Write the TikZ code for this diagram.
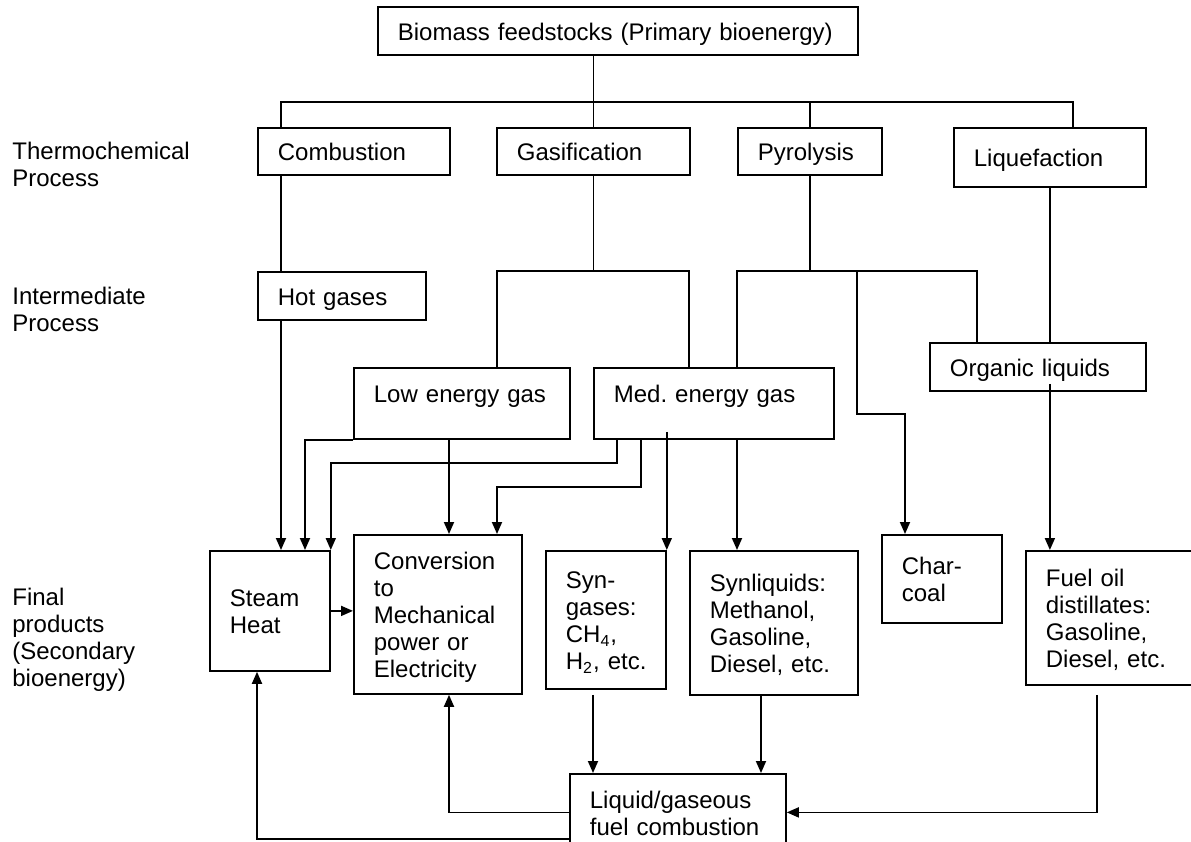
\documentclass[tikz,border=0pt]{standalone}
\usepackage{fontspec}
\setmainfont{Liberation Sans}
\usetikzlibrary{arrows.meta, calc}
\tikzset{
    box/.style={draw, line width=0.9pt, anchor=north west, align=left, inner xsep=10pt, inner ysep=0pt,
        font=\fontsize{12}{13.5}\selectfont, execute at begin node=\rule{0pt}{13.5pt}, execute at end node=\strut},
    highbox/.style={box, execute at begin node=\strut},
    lbl/.style={anchor=west, align=left, inner sep=0pt, font=\fontsize{12}{13.5}\selectfont},
    line/.style={line width=0.9pt},
    arrow/.style={-{Triangle[length=6pt,width=5pt]}, line width=0.9pt}
}

\begin{document}
\begin{tikzpicture}[x=0.5pt, y=-0.5pt]
        \useasboundingbox (0,0) rectangle (1191,842);
        % row labels
        \node [lbl] (thermo) at (12,164) {Thermochemical\\Process};
        \node [lbl] (inter) at (12,309) {Intermediate\\Process};
        \node [lbl] (final) at (12,640) {Final\\products\\(Secondary\\bioenergy)};

        % boxes
        \node [box, minimum width=240pt, text width=220pt, minimum height=24pt] (biomass) at (377,6) {Biomass feedstocks (Primary bioenergy)};
        \node [box, minimum width=96pt, text width=76pt, minimum height=23.5pt] (comb) at (257,127) {Combustion};
        \node [box, minimum width=96.5pt, text width=76.5pt, minimum height=23.5pt] (gasif) at (496,127) {Gasification};
        \node [box, minimum width=72pt, text width=52pt, minimum height=23.5pt] (pyro) at (737,127) {Pyrolysis};
        \node [box, minimum width=96pt, text width=76pt, minimum height=29.5pt] (liq) at (953,127) {Liquefaction};
        \node [box, minimum width=84pt, text width=64pt, minimum height=24pt] (hot) at (257,271) {Hot gases};
        \node [box, minimum width=108pt, text width=88pt, minimum height=35.5pt, text depth=14pt] (low) at (353,367) {Low energy gas};
        \node [box, minimum width=120pt, text width=100pt, minimum height=35.5pt, text depth=14pt] (med) at (593,367) {Med.\ energy gas};
        \node [box, minimum width=108pt, text width=88pt, minimum height=24pt] (org) at (929,342) {Organic liquids};
        \node [box, minimum width=60pt, text width=40pt, minimum height=60pt] (steam) at (209,550) {Steam\\Heat};
        \node [box, minimum width=84pt, text width=64pt, minimum height=79.5pt] (conv) at (353,534) {Conversion\\to\\Mechanical\\power or\\Electricity};
        \node [highbox, minimum width=60pt, text width=40pt, minimum height=69pt] (syngas) at (545,550) {Syn-\\gases:\\CH\textsubscript{4},\\H\textsubscript{2},~etc.};
        \node [box, minimum width=84pt, text width=64pt, minimum height=72pt] (synliq) at (689,550) {Synliquids:\\Methanol,\\Gasoline,\\Diesel, etc.};
        \node [highbox, minimum width=60pt, text width=40pt, minimum height=44pt] (char) at (881,534) {Char-\\coal};
        \node [highbox, minimum width=86pt, text width=66pt, minimum height=67pt] (fuel) at (1025,550) {Fuel oil\\distillates:\\Gasoline,\\Diesel, etc.};
        \node [highbox, minimum width=108pt, text width=88pt, minimum height=38.5pt] (fcomb) at (569,773) {Liquid/gaseous\\fuel combustion};

        % junction points
        \coordinate (busL) at (281,102);
        \coordinate (busR) at (1073,102);
        \coordinate (gasL) at (497,271);
        \coordinate (gasR) at (689,271);
        \coordinate (pyrL) at (737,271);
        \coordinate (pyrM) at (857,271);
        \coordinate (pyrR) at (977,271);
        \coordinate (charK) at (905,414);
        \coordinate (lowK) at (305,438);
        \coordinate (medA) at (617,463);
        \coordinate (medB) at (641,487);
        \coordinate (convX) at (449,0);
        \coordinate (sgX) at (593,0);
        \coordinate (slX) at (761,0);
        \coordinate (fuX) at (1097,0);

        % tree lines
        \draw [line] (biomass.south -| gasif.north) -- (gasif.north);
        \draw [line] (comb.north -| busL) -- (busL) -- (busR) -- (liq.north -| busR);
        \draw [line] (pyro.north) -- (pyro.north |- busL);
        \draw [line] (comb.south -| busL) -- (hot.north -| busL);
        \draw [line] (gasif.south) -- (gasif.south |- gasL);
        \draw [line] (low.north -| gasL) -- (gasL) -- (gasR) -- (med.north -| gasR);
        \draw [line] (med.north -| pyrL) -- (pyrL) -- (pyrR) -- (org.north -| pyrR);
        \draw [line] (pyro.south) -- (pyro.south |- pyrL);
        \draw [line] (liq.south) -- (org.north -| liq.south);

        % arrows
        \draw [arrow] (pyrM) |- (charK) -- (char.north -| charK);
        \draw [arrow] ([yshift=4pt]org.south -| liq.south) -- (fuel.north -| liq.south);
        \draw [arrow] (hot.south -| busL) -- (steam.north -| busL);
        \draw [arrow] (low.south west) -| (steam.north -| lowK);
        \draw [arrow] (low.south -| convX) -- (conv.north -| convX);
        \draw [arrow] (med.south -| medA) -- (medA) -| (steam.north east);
        \draw [arrow] (med.south -| medB) -- (medB) -| (conv.north -| gasL);
        \draw [arrow] ([yshift=4pt]med.south -| syngas.north east) -- (syngas.north east);
        \draw [arrow] (med.south -| pyrL) -- (synliq.north -| pyrL);
        \draw [arrow] (steam.east) -- (conv.west |- steam.east);
        \draw [arrow] ([yshift=-2.5pt]syngas.south -| sgX) -- (fcomb.north -| sgX);
        \draw [arrow] (synliq.south -| slX) -- (fcomb.north -| slX);
        \draw [arrow] ([yshift=-4.5pt]fuel.south -| fuX) |- (fcomb.east);
        \draw [arrow] (fcomb.west) -| (conv.south -| convX);
        \draw [arrow] ([yshift=-13.25pt]fcomb.west) -| (steam.south -| hot.south west);
    \end{tikzpicture}
\end{document}
